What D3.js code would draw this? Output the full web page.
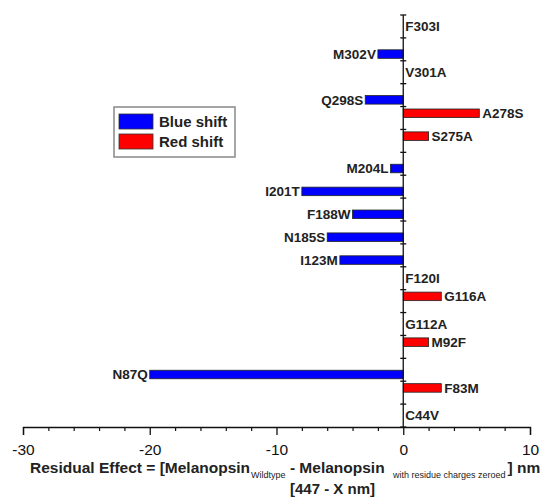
<!DOCTYPE html>
<html>
<head>
<meta charset="utf-8">
<script src="https://cdn.jsdelivr.net/npm/d3@7"></script>
<style>
  body { margin: 0; background: #fff; }
  text { font-family: "Liberation Sans", Arial, sans-serif; }
</style>
</head>
<body>
<div id="root"></div>
<script>
// data (top to bottom)
var mutants   = ["F303I","M302V","V301A","Q298S","A278S","S275A","M204L","I201T","F188W",
                 "N185S","I123M","F120I","G116A","G112A","M92F","N87Q","F83M","C44V"];
var blueShift = [0, -2, 0, -3, 0, 0, -1, -8, -4, -6, -5, 0, 0, 0, 0, -20, 0, 0];
var redShift  = [0, 0, 0, 0, 6, 2, 0, 0, 0, 0, 0, 0, 3, 0, 2, 0, 3, 0];
var xTicks    = [-30, -20, -10, 0, 10];
var series    = ["Red shift", "Blue shift"];
var legendOrder = ["Blue shift", "Red shift"];

var width = 543, height = 497;
var colors = {"Blue shift": "#0000ff", "Red shift": "#ff0000"};

var svg = d3.select("#root")
            .append("svg")
            .attr("width", width)
            .attr("height", height);

// scales
var x = d3.scaleLinear()
  .domain([-30, 10])
  .range([23, 530]);

var y = d3.scaleBand()
  .domain(mutants)
  .range([15, 427]);

var sub = d3.scaleBand()
  .domain(series)
  .range([y.bandwidth() / 2 - 9, y.bandwidth() / 2 + 9])
  .paddingInner(0.1);

var rows = mutants.map(function (m, i) {
  return {name: m, blue: blueShift[i], red: redShift[i]};
});

// bars
var bars = [];
rows.forEach(function (d) {
  if (d.blue !== 0) bars.push({name: d.name, s: "Blue shift", v: d.blue});
  if (d.red !== 0) bars.push({name: d.name, s: "Red shift", v: d.red});
});

svg.append("g")
  .selectAll("rect")
  .data(bars)
  .enter()
  .append("rect")
    .attr("x", function (d) { return x(Math.min(0, d.v)); })
    .attr("y", function (d) { return y(d.name) + sub(d.s); })
    .attr("width", function (d) { return Math.abs(x(d.v) - x(0)); })
    .attr("height", sub.bandwidth())
    .style("fill", function (d) { return colors[d.s]; })
    .style("stroke", "#222")
    .style("stroke-width", 0.8);

// x axis, major and minor ticks
var xAxis = svg.append("g")
  .attr("transform", "translate(0," + y.range()[1] + ")")
  .call(d3.axisBottom(x).tickValues(xTicks).tickSize(8).tickPadding(9).tickFormat(d3.format("d")));
xAxis.select(".domain").attr("stroke", "#111").attr("stroke-width", 1.3);
xAxis.selectAll(".tick line").attr("stroke", "#111").attr("stroke-width", 1.3);
xAxis.selectAll(".tick text")
  .attr("fill", "#111")
  .style("font-size", "15.5px")
  .text(function (d) { return d < 0 ? "-" + Math.abs(d) : d; });

var minor = d3.range(-30, 11, 2).filter(function (v) { return v % 10 !== 0; });
var xMinor = svg.append("g")
  .attr("transform", "translate(0," + y.range()[1] + ")")
  .call(d3.axisBottom(x).tickValues(minor).tickSize(4).tickFormat(""));
xMinor.select(".domain").remove();
xMinor.selectAll(".tick line").attr("stroke", "#111").attr("stroke-width", 1.2);

// vertical axis at zero with ticks between categories
var yEdges = mutants.map(function (m) { return y(m); }).concat([y.range()[1]]);
svg.append("line")
  .attr("x1", x(0)).attr("x2", x(0))
  .attr("y1", y.range()[0]).attr("y2", y.range()[1])
  .attr("stroke", "#111").attr("stroke-width", 1.3);
svg.append("g")
  .selectAll("line")
  .data(yEdges)
  .enter()
  .append("line")
    .attr("x1", x(0) - 3).attr("x2", x(0) + 3)
    .attr("y1", function (d) { return d; })
    .attr("y2", function (d) { return d; })
    .attr("stroke", "#111").attr("stroke-width", 1.3);

// mutant labels
svg.append("g")
  .selectAll("text")
  .data(rows)
  .enter()
  .append("text")
    .attr("x", function (d) {
      if (d.blue !== 0) return x(d.blue) - 2;
      if (d.red !== 0) return x(d.red) + 3;
      return x(0) + 2;
    })
    .attr("y", function (d) {
      if (d.blue !== 0) return y(d.name) + sub("Blue shift") + sub.bandwidth() / 2;
      if (d.red !== 0) return y(d.name) + sub("Red shift") + sub.bandwidth() / 2;
      return y(d.name) + y.bandwidth() / 2;
    })
    .attr("dy", "0.36em")
    .attr("text-anchor", function (d) { return d.blue !== 0 ? "end" : "start"; })
    .style("font-size", "13.5px")
    .style("font-weight", "bold")
    .style("fill", "#222")
    .text(function (d) { return d.name; });

// legend
var legend = svg.append("g").attr("transform", "translate(114,107)");
legend.append("rect")
  .attr("width", 121).attr("height", 50)
  .style("fill", "#fff").style("stroke", "#888").style("stroke-width", 1.5);
legend.selectAll("g.item")
  .data(legendOrder)
  .enter()
  .append("g")
    .attr("class", "item")
    .attr("transform", function (d, i) { return "translate(5," + (7 + i * 20) + ")"; })
    .each(function (d) {
      var g = d3.select(this);
      g.append("rect")
        .attr("width", 34).attr("height", 15)
        .style("fill", colors[d]).style("stroke", "#333").style("stroke-width", 0.8);
      g.append("text")
        .attr("x", 40).attr("y", 12.5)
        .style("font-size", "15px").style("font-weight", "bold").style("fill", "#222")
        .text(d);
    });

// axis title
var title = svg.append("text")
  .attr("x", 30).attr("y", 473)
  .style("font-size", "15.5px").style("font-weight", "bold").style("fill", "#222");
title.append("tspan").text("Residual Effect = [Melanopsin");
title.append("tspan").attr("dy", 5).attr("dx", 1).style("font-size", "9px").style("font-weight", "normal").text("Wildtype");
title.append("tspan").attr("dy", -5).text(" - Melanopsin ");
title.append("tspan").attr("dy", 5).attr("dx", 4).style("font-size", "9px").style("font-weight", "normal").text("with residue charges zeroed");
title.append("tspan").attr("dy", -5).attr("dx", 2).text("] nm");

svg.append("text")
  .attr("x", 290).attr("y", 494)
  .style("font-size", "15px").style("font-weight", "bold").style("fill", "#222")
  .text("[447 - X nm]");
</script>
</body>
</html>
